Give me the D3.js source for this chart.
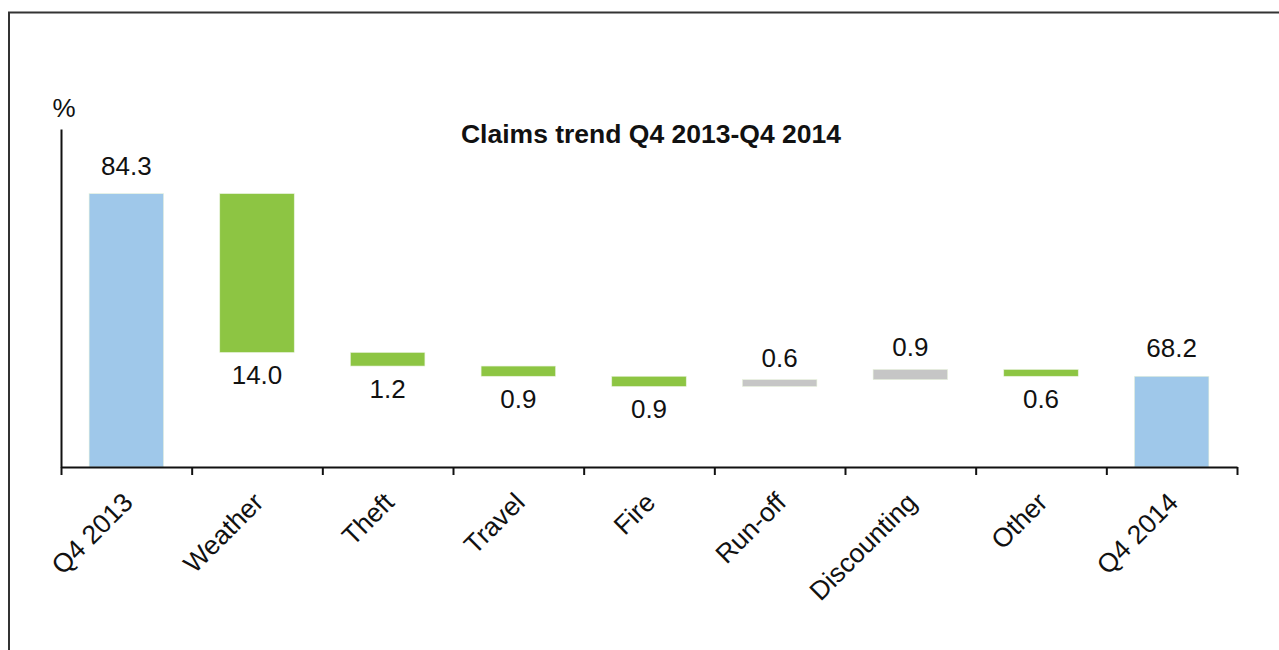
<!DOCTYPE html>
<html>
<head>
<meta charset="utf-8">
<script src="https://cdn.jsdelivr.net/npm/d3@7"></script>
<style>
  body { margin: 0; background: #fff; }
  text { font-family: "Liberation Sans", Arial, sans-serif; fill: #111; }
</style>
</head>
<body>
<script>
var w = 1279;
var h = 650;

// chart data
var categories = ["Q4 2013", "Weather", "Theft", "Travel", "Fire", "Run-off", "Discounting", "Other", "Q4 2014"];
var changes = [84.3, -14.0, -1.2, -0.9, -0.9, 0.6, 0.9, -0.6, 68.2];
var kinds = ["total", "down", "down", "down", "down", "up", "up", "down", "total"];
var title = "Claims trend Q4 2013-Q4 2014";
var yUnit = "%";

var color = {total: "#9fc8ea", down: "#8dc543", up: "#c6c6c6"};

// running sum for the waterfall
var data = [];
var run = 0;
for (var i = 0; i < categories.length; i++) {
    var start, end;
    if (kinds[i] == "total") {
        start = 60.2;
        end = changes[i];
        run = changes[i];
    } else {
        start = run;
        end = run + changes[i];
        run = end;
    }
    data.push({name: categories[i], value: changes[i], kind: kinds[i], start: start, end: end});
}

var svg = d3.select("body")
    .append("svg")
    .attr("width", w)
    .attr("height", h);

// outer frame (cut by the picture on right and bottom)
svg.append("rect")
    .attr("x", 9)
    .attr("y", 12.5)
    .attr("width", 1400)
    .attr("height", 800)
    .attr("fill", "none")
    .attr("stroke", "#333")
    .attr("stroke-width", 2);

var x = d3.scaleBand()
    .domain(categories)
    .range([61, 1237])
    .paddingInner(0.43)
    .paddingOuter(0.215);

var y = d3.scaleLinear()
    .domain([60.2, 90])
    .range([467, 129]);

// bars
svg.selectAll("rect.bar")
    .data(data)
    .enter()
    .append("rect")
    .attr("class", "bar")
    .attr("x", function(d) { return x(d.name); })
    .attr("width", x.bandwidth())
    .attr("y", function(d) { return y(Math.max(d.start, d.end)); })
    .attr("height", function(d) { return Math.abs(y(d.start) - y(d.end)); })
    .attr("fill", function(d) { return color[d.kind]; })
    .attr("stroke", "#e8f2dc")
    .attr("stroke-width", 0.6);

// value labels
svg.selectAll("text.val")
    .data(data)
    .enter()
    .append("text")
    .attr("class", "val")
    .attr("x", function(d) { return x(d.name) + x.bandwidth() / 2; })
    .attr("y", function(d) {
        if (d.kind == "total") return y(d.end) - 19;
        if (d.kind == "up") return y(d.end) - 13;
        return y(d.end) + 32;
    })
    .attr("text-anchor", "middle")
    .style("font-size", "26px")
    .text(function(d) { return Math.abs(d.value).toFixed(1); });

// y axis (line only)
svg.append("g")
    .attr("transform", "translate(61,0)")
    .call(d3.axisLeft(y).tickValues([]).tickSizeOuter(0))
    .select(".domain")
    .attr("stroke", "#111")
    .attr("stroke-width", 2);

// x axis: ticks between the bands
var xEdge = d3.scaleLinear()
    .domain([0, categories.length])
    .range([61, 1237]);

var xAxis = svg.append("g")
    .attr("transform", "translate(0,467)")
    .call(d3.axisBottom(xEdge)
        .tickValues(d3.range(categories.length + 1))
        .tickFormat("")
        .tickSize(8)
        .tickSizeOuter(0));
xAxis.select(".domain").attr("stroke", "#111").attr("stroke-width", 2);
xAxis.selectAll(".tick line").attr("stroke", "#111").attr("stroke-width", 2);

// category labels
svg.append("g")
    .attr("transform", "translate(0,467)")
    .call(d3.axisBottom(x).tickSize(0))
    .call(function(g) { g.select(".domain").remove(); })
    .selectAll("text")
    .attr("font-family", null)
    .style("font-size", "26.5px")
    .attr("text-anchor", "end")
    .attr("dy", null)
    .attr("y", 0)
    .attr("transform", "translate(8,37) rotate(-45)");

// title and unit
svg.append("text")
    .attr("x", 651)
    .attr("y", 143)
    .attr("text-anchor", "middle")
    .style("font-size", "26.5px")
    .style("font-weight", "bold")
    .text(title);

svg.append("text")
    .attr("x", 64)
    .attr("y", 117)
    .attr("text-anchor", "middle")
    .style("font-size", "26px")
    .text(yUnit);
</script>
</body>
</html>
